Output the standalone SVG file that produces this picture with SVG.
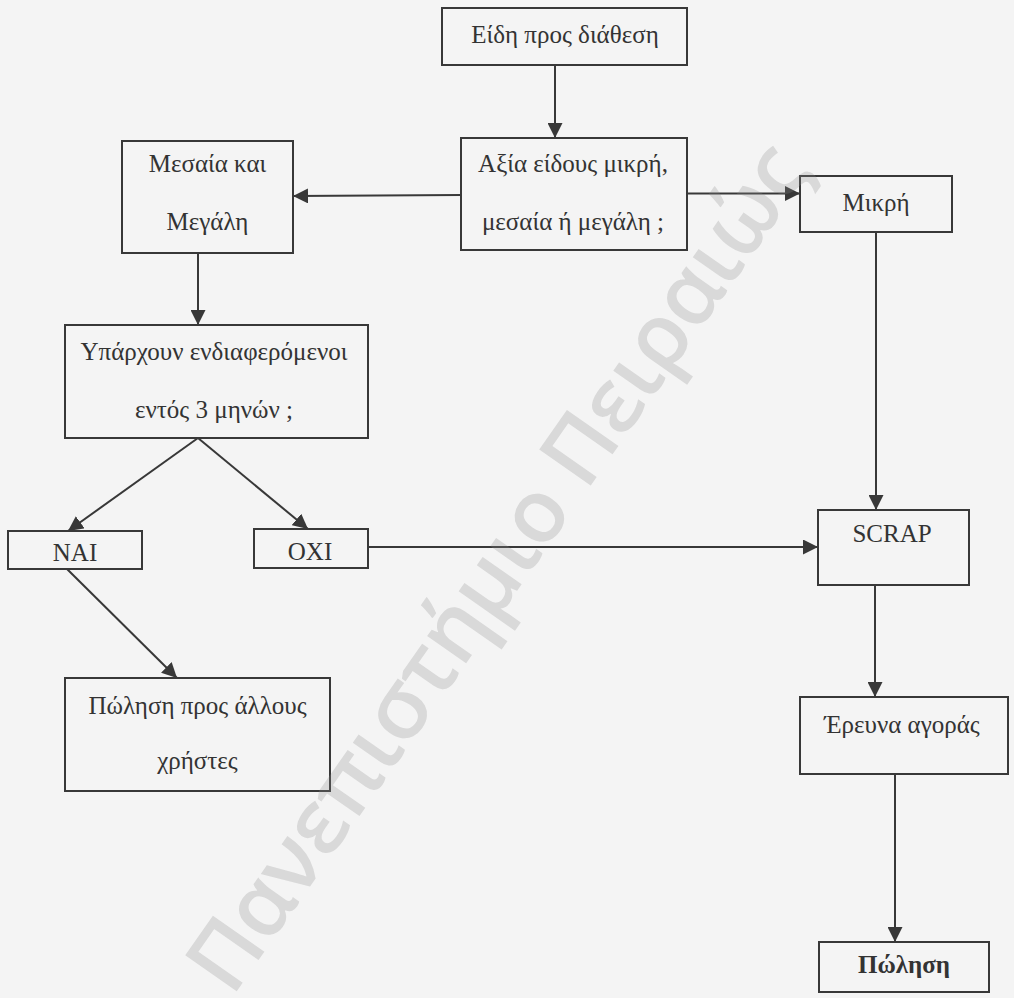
<svg xmlns="http://www.w3.org/2000/svg" width="1014" height="998" viewBox="0 0 1014 998">
<style>
.box{fill:none;stroke:#383838;stroke-width:2}
.lbl{font-family:"Liberation Serif","Times New Roman",serif;font-size:25px;fill:#333;text-anchor:middle}
.b{font-weight:bold}
.conn{stroke:#383838;stroke-width:2;fill:none}
.wm{font-family:"Open Sans","DejaVu Sans",sans-serif;font-size:88px;font-weight:600;fill:#8a8a8a;fill-opacity:0.26}
</style>
<defs>
<marker id="ah" markerUnits="userSpaceOnUse" markerWidth="15" markerHeight="15" refX="15" refY="7.5" orient="auto">
<path d="M0,0 L15,7.5 L0,15 Z" fill="#383838"/>
</marker>
</defs>
<rect x="0" y="0" width="1014" height="998" fill="#f4f4f4"/>
<g id="connectors">
<line class="conn" x1="555" y1="65" x2="555" y2="138" marker-end="url(#ah)"/>
<line class="conn" x1="461" y1="195" x2="293" y2="196" marker-end="url(#ah)"/>
<line class="conn" x1="687" y1="193.5" x2="800" y2="193.5" marker-end="url(#ah)"/>
<line class="conn" x1="198" y1="253" x2="198" y2="325" marker-end="url(#ah)"/>
<line class="conn" x1="198" y1="438" x2="68" y2="531" marker-end="url(#ah)"/>
<line class="conn" x1="198" y1="438" x2="308" y2="529" marker-end="url(#ah)"/>
<line class="conn" x1="368" y1="547" x2="818" y2="547" marker-end="url(#ah)"/>
<line class="conn" x1="876" y1="232" x2="876" y2="510" marker-end="url(#ah)"/>
<line class="conn" x1="67" y1="569" x2="177" y2="678" marker-end="url(#ah)"/>
<line class="conn" x1="875" y1="585" x2="875" y2="697" marker-end="url(#ah)"/>
<line class="conn" x1="895" y1="774" x2="895" y2="942" marker-end="url(#ah)"/>
</g>
<g id="n-eidi">
<rect class="box" x="442" y="8" width="245" height="57"/>
<text class="lbl" x="565" y="43">Είδη προς διάθεση</text>
</g>
<g id="n-axia">
<rect class="box" x="461" y="138" width="226" height="112"/>
<text class="lbl" x="573" y="172">Αξία είδους μικρή,</text>
<text class="lbl" x="573" y="230">μεσαία ή μεγάλη ;</text>
</g>
<g id="n-mesaia">
<rect class="box" x="122" y="141" width="171" height="112"/>
<text class="lbl" x="207.5" y="172">Μεσαία και</text>
<text class="lbl" x="207.5" y="230">Μεγάλη</text>
</g>
<g id="n-mikri">
<rect class="box" x="800" y="176" width="152" height="56"/>
<text class="lbl" x="876" y="211">Μικρή</text>
</g>
<g id="n-yparxoun">
<rect class="box" x="65" y="325" width="303" height="113"/>
<text class="lbl" x="214" y="360">Υπάρχουν ενδιαφερόμενοι</text>
<text class="lbl" x="214" y="418">εντός 3 μηνών ;</text>
</g>
<g id="n-nai">
<rect class="box" x="8" y="531" width="134" height="38"/>
<text class="lbl" x="75" y="561">ΝΑΙ</text>
</g>
<g id="n-oxi">
<rect class="box" x="254" y="529" width="114" height="39"/>
<text class="lbl" x="310" y="560">ΟΧΙ</text>
</g>
<g id="n-scrap">
<rect class="box" x="818" y="510" width="151" height="75"/>
<text class="lbl" x="892" y="542">SCRAP</text>
</g>
<g id="n-polisi-allous">
<rect class="box" x="65" y="678" width="265" height="113"/>
<text class="lbl" x="197.5" y="714">Πώληση προς άλλους</text>
<text class="lbl" x="197.5" y="769">χρήστες</text>
</g>
<g id="n-erevna">
<rect class="box" x="800" y="697" width="208" height="77"/>
<text class="lbl" x="902" y="733">Έρευνα αγοράς</text>
</g>
<g id="n-polisi">
<rect class="box" x="819" y="942" width="170" height="50"/>
<text class="lbl b" x="904" y="973">Πώληση</text>
</g>
<text class="wm" transform="translate(232,998) rotate(-55)" textLength="1010" lengthAdjust="spacing">Πανεπιστήμιο Πειραιώς</text>
</svg>
